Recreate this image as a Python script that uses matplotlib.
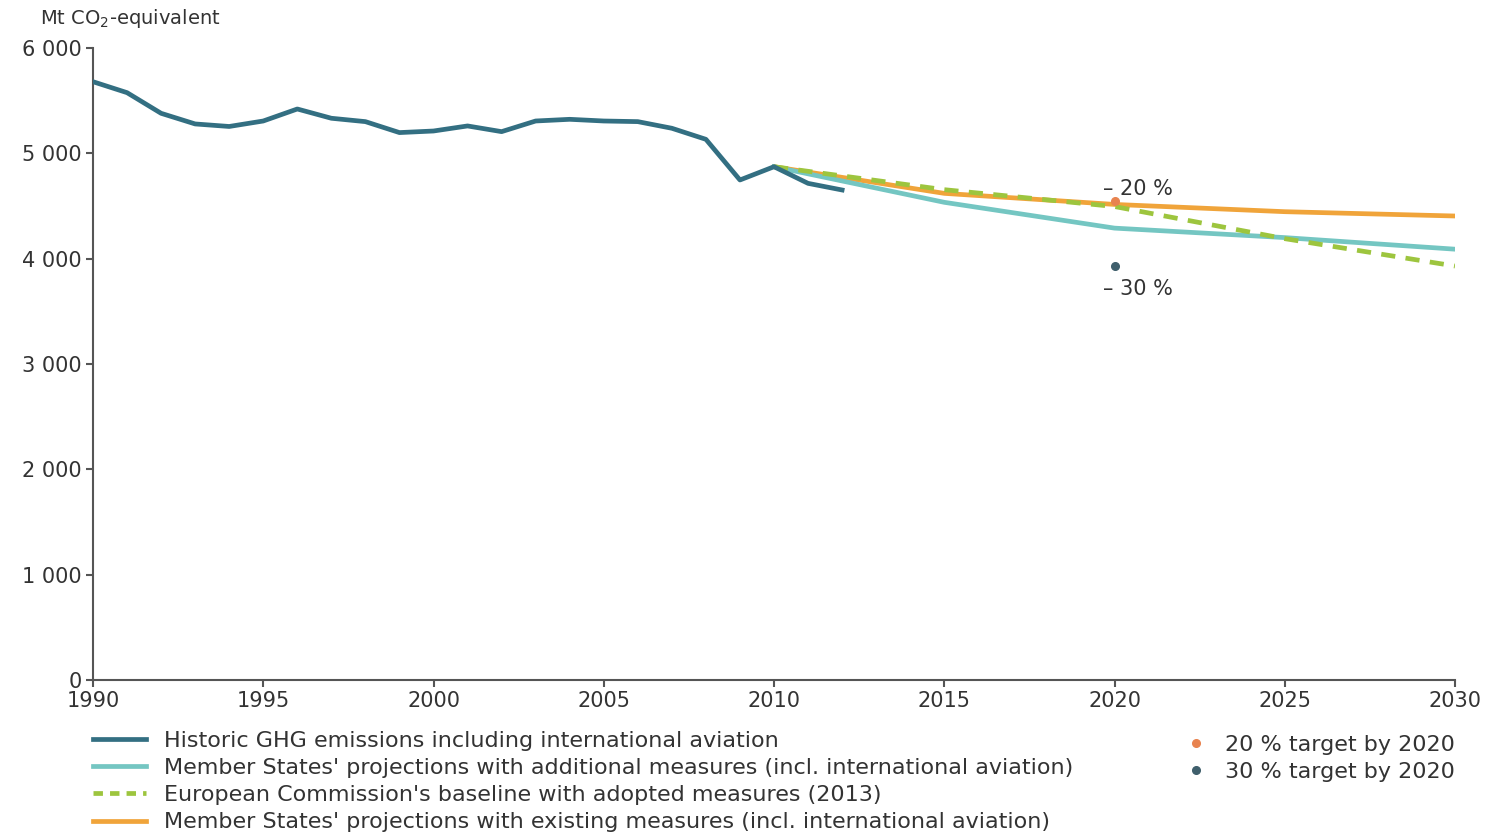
import matplotlib
matplotlib.use("Agg")
import matplotlib.pyplot as plt
from matplotlib.lines import Line2D
from matplotlib.ticker import FuncFormatter

plt.rcParams['font.family'] = ['DejaVu Sans']

hist_years = list(range(1990, 2013))
hist_vals = [5680, 5576, 5380, 5279, 5255, 5307, 5421, 5333, 5301, 5197, 5212,
             5260, 5206, 5307, 5323, 5307, 5301, 5238, 5133, 4747, 4873, 4715, 4652]

proj_years = [2010, 2015, 2020, 2025, 2030]
additional_vals = [4873, 4535, 4290, 4200, 4090]
ec_baseline_vals = [4873, 4655, 4495, 4190, 3930]
existing_vals = [4873, 4620, 4515, 4446, 4405]

target_year = 2020
target20 = 4550
target30 = 3930

series_labels = [
    "Historic GHG emissions including international aviation",
    "Member States' projections with additional measures (incl. international aviation)",
    "European Commission's baseline with adopted measures (2013)",
    "Member States' projections with existing measures (incl. international aviation)",
]
target_labels = ["20 % target by 2020", "30 % target by 2020"]

c_hist = "#336f82"
c_add = "#74c6c2"
c_ec = "#9dc53e"
c_exist = "#f0a43a"
c_t20 = "#e8834f"
c_t30 = "#3f5f6c"
c_text = "#333333"

fs = 15
lfs = 16

fig = plt.figure(figsize=(14.97, 8.35), dpi=100)
ax = fig.add_axes([93/1497, 1-680/835, (1455-93)/1497, (680-48)/835])

ax.plot(proj_years, existing_vals, color=c_exist, lw=3.4, zorder=2)
ax.plot(proj_years, additional_vals, color=c_add, lw=3.4, zorder=3)
ax.plot(proj_years, ec_baseline_vals, color=c_ec, lw=3.4, ls=(0, (3, 2.2)), zorder=4)
ax.plot(hist_years, hist_vals, color=c_hist, lw=3.4, zorder=5)
ax.plot([target_year], [target20], 'o', color=c_t20, ms=5.5, zorder=6)
ax.plot([target_year], [target30], 'o', color=c_t30, ms=5.5, zorder=6)

ax.text(2019.65, target20 + 20, "– 20 %", fontsize=fs, color=c_text, va='bottom', ha='left')
ax.text(2019.65, target30 - 120, "– 30 %", fontsize=fs, color=c_text, va='top', ha='left')

ax.set_xlim(1990, 2030)
ax.set_ylim(0, 6000)
ax.set_xticks(range(1990, 2031, 5))
ax.set_yticks(range(0, 6001, 1000))
ax.yaxis.set_major_formatter(FuncFormatter(lambda v, p: f"{int(v):,}".replace(",", " ")))
for s in ['top', 'right']:
    ax.spines[s].set_visible(False)
for s in ['left', 'bottom']:
    ax.spines[s].set_color("#555555")
    ax.spines[s].set_linewidth(1.5)
ax.tick_params(axis='both', colors="#555555", labelcolor=c_text, labelsize=fs, length=5, width=1.5)
ax.tick_params(axis='x', pad=3)
ax.tick_params(axis='y', pad=3)

fig.text(40/1497, 1-18/835, "Mt CO$_2$-equivalent", fontsize=14, color=c_text, va='center', ha='left')

handles = [
    Line2D([], [], color=c_hist, lw=3.4),
    Line2D([], [], color=c_add, lw=3.4),
    Line2D([], [], color=c_ec, lw=3.4, ls=(0, (2, 1.5))),
    Line2D([], [], color=c_exist, lw=3.4),
]
leg1 = fig.legend(handles, series_labels, loc='upper left', bbox_to_anchor=(93/1497, 1-731/835),
                  frameon=False, fontsize=lfs, handlelength=2.4, handletextpad=0.8,
                  labelspacing=0.32, borderaxespad=0, borderpad=0, labelcolor=c_text)
handles2 = [
    Line2D([], [], color=c_t20, marker='o', ls='none', ms=5.5),
    Line2D([], [], color=c_t30, marker='o', ls='none', ms=5.5),
]
leg2 = fig.legend(handles2, target_labels, loc='upper left', bbox_to_anchor=(1185/1497, 1-735/835),
                  frameon=False, fontsize=lfs, handlelength=1.0, handletextpad=0.8,
                  labelspacing=0.32, borderaxespad=0, borderpad=0, labelcolor=c_text)

fig.savefig("out.png", dpi=100)
